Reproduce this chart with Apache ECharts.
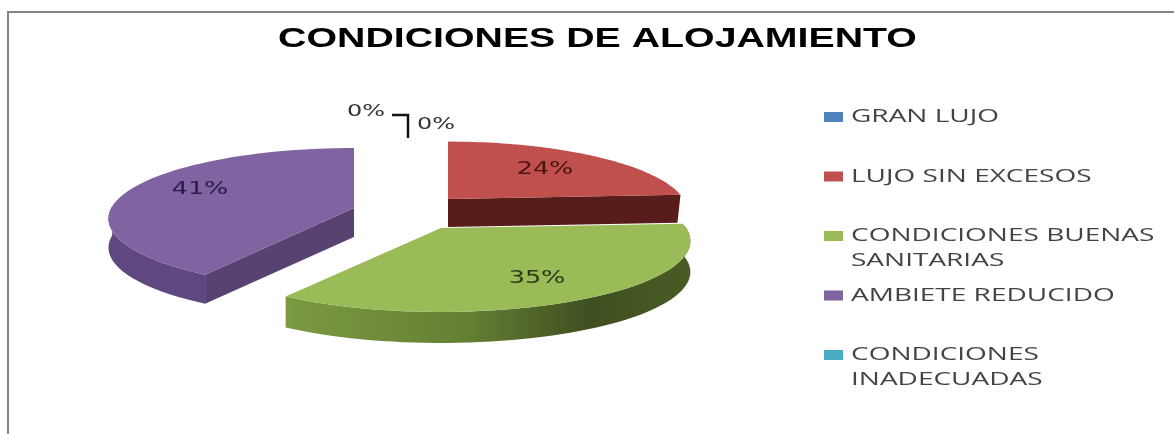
<!DOCTYPE html>
<html>
<head>
<meta charset="utf-8">
<style>html,body{margin:0;padding:0;background:#fff}#chart{width:1174px;height:434px}</style>
<script src="https://cdn.jsdelivr.net/npm/echarts@6/dist/echarts.min.js"></script>
</head>
<body>
<div id="chart"></div>
<script>
// Accommodation conditions: share of responses per category
var chartTitle = 'CONDICIONES DE ALOJAMIENTO';
var categories = ['GRAN LUJO', 'LUJO SIN EXCESOS', 'CONDICIONES BUENAS\nSANITARIAS', 'AMBIETE REDUCIDO', 'CONDICIONES\nINADECUADAS'];
var values = [0, 24, 35, 41, 0];
var colors = ['#4f81bd', '#c0504d', '#9bbb59', '#8064a2', '#4bacc6'];

// Exploded slice apex on screen, radius factors, perspective and extrusion depth, per category
var apexX = [408, 448, 441, 354, 408];
var apexY = [170, 199, 228, 208, 170];
var scaleX = [1, 0.99, 1.03, 1.02, 1];
var scaleY = [1, 0.99, 1, 1.006, 1];
var persp = [0.183, 0.183, 0.183, 0.15, 0.183];
var depth = [0, 28, 31, 29, 0];
var labelX = [0, 545, 537, 200, 0];
var labelY = [0, 170, 279, 190, 0];
var labelColors = ['#222', '#4a1412', '#2c3a14', '#271c49', '#222'];
var sideColors = ['#000', '#581d1a', '#4a5c25', '#5f4880', '#000'];

// Perspective projection of the tilted disc
var RX = 238, RY = 68.6;
function project(i, theta) {
  var u = Math.sin(theta), v = -Math.cos(theta), d = 1 - persp[i] * v;
  return [apexX[i] + scaleX[i] * RX * u / d, apexY[i] + scaleY[i] * RY * v / d];
}
function arc(i, a, b, dy) {
  var pts = [], n = 60;
  for (var s = 0; s <= n; s++) {
    var p = project(i, a + (b - a) * s / n);
    pts.push([p[0], p[1] + dy]);
  }
  return pts;
}

var total = values.reduce(function (a, b) { return a + b; }, 0);
var starts = [], acc = 0;
values.forEach(function (v) { starts.push(acc / total * 2 * Math.PI); acc += v; });

function poly(points, fill, z) {
  return { type: 'polygon', z2: z, shape: { points: points }, style: { fill: fill } };
}

function renderSlice(params, api) {
  var i = params.dataIndex, v = api.value(1);
  if (!v) return null;
  var a = starts[i], b = a + v / total * 2 * Math.PI;
  var apex = [apexX[i], apexY[i]], h = depth[i], kids = [];
  var rim = arc(i, a, b, 0);
  var apexLow = [apex[0], apex[1] + h];
  var base = i === 2 ? 20 : 10;

  if (i === 1) {
    // rear slice: only the cut face from the apex to the right edge shows
    var e = rim[rim.length - 1];
    kids.push(poly([apex, e, [e[0] - 3, e[1] + h], apexLow], sideColors[i], base));
  } else {
    var front = [], ring = arc(i, a, b, h), keep = [];
    rim.forEach(function (p, k) { if (Math.cos(a + (b - a) * k / 60) < 0.05) keep.push(k); });
    keep.forEach(function (k) { front.push(rim[k]); });
    keep.slice().reverse().forEach(function (k) { front.push(ring[k]); });
    var fill = i === 2
      ? new echarts.graphic.LinearGradient(0, 0, 1, 0, [
          { offset: 0, color: '#7c9a40' }, { offset: 0.45, color: '#657f34' },
          { offset: 0.75, color: '#3f4f20' }, { offset: 1, color: '#4a5c25' }])
      : sideColors[i];
    kids.push(poly(front, fill, base));
    if (i === 3) {
      var c = rim[0];
      kids.push(poly([apex, c, [c[0], c[1] + h], apexLow], '#574272', base + 1));
    }
  }
  kids.push(poly([apex].concat(rim), colors[i], base + 2));
  kids.push({
    type: 'text', x: labelX[i], y: labelY[i], scaleX: 1.5, z2: 40,
    style: { text: Math.round(v / total * 100) + '%', fill: labelColors[i], align: 'center', verticalAlign: 'middle', font: '17px "DejaVu Sans"' }
  });
  return { type: 'group', children: kids };
}

// Legend rows sit on an even pitch, wrapped names hang below their row
var legendItems = [];
categories.forEach(function (name, i) {
  var y = 117 + i * 59.5;
  legendItems.push({ type: 'rect', shape: { x: 824, y: y - 5, width: 19, height: 10 }, style: { fill: colors[i] } });
  legendItems.push({ type: 'text', x: 851, y: y - 12, scaleX: 1.6,
    style: { text: name, fill: '#444', align: 'left', verticalAlign: 'top', lineHeight: 25, font: '17.5px "Open Sans"' } });
});

var chart = echarts.init(document.getElementById('chart'), null, { renderer: 'canvas' });
chart.setOption({
  animation: false,
  backgroundColor: '#fff',
  graphic: [
    // frame: only the top and left edges are drawn
    { type: 'polyline', shape: { points: [[8, 434], [8, 12], [1174, 12]] }, style: { fill: 'none', stroke: '#858585', lineWidth: 2 } },
    { type: 'text', x: 597.5, y: 40, scaleX: 1.455,
      style: { text: chartTitle, fill: '#000', align: 'center', verticalAlign: 'middle', font: 'bold 27px "Liberation Sans"' } },
    // leader lines of the two empty categories
    { type: 'polyline', shape: { points: [[392, 115], [408, 115], [408, 138]] }, style: { fill: 'none', stroke: '#111', lineWidth: 2.5 } },
    { type: 'text', x: 366, y: 112, scaleX: 1.6, style: { text: values[0] + '%', fill: '#333', align: 'center', verticalAlign: 'middle', font: '15px "DejaVu Sans"' } },
    { type: 'text', x: 436, y: 125, scaleX: 1.6, style: { text: values[4] + '%', fill: '#333', align: 'center', verticalAlign: 'middle', font: '15px "DejaVu Sans"' } }
  ].concat(legendItems),
  series: [{
    type: 'custom',
    coordinateSystem: 'none',
    renderItem: renderSlice,
    data: values.map(function (v, i) { return [i, v]; })
  }]
});
</script>
</body>
</html>
